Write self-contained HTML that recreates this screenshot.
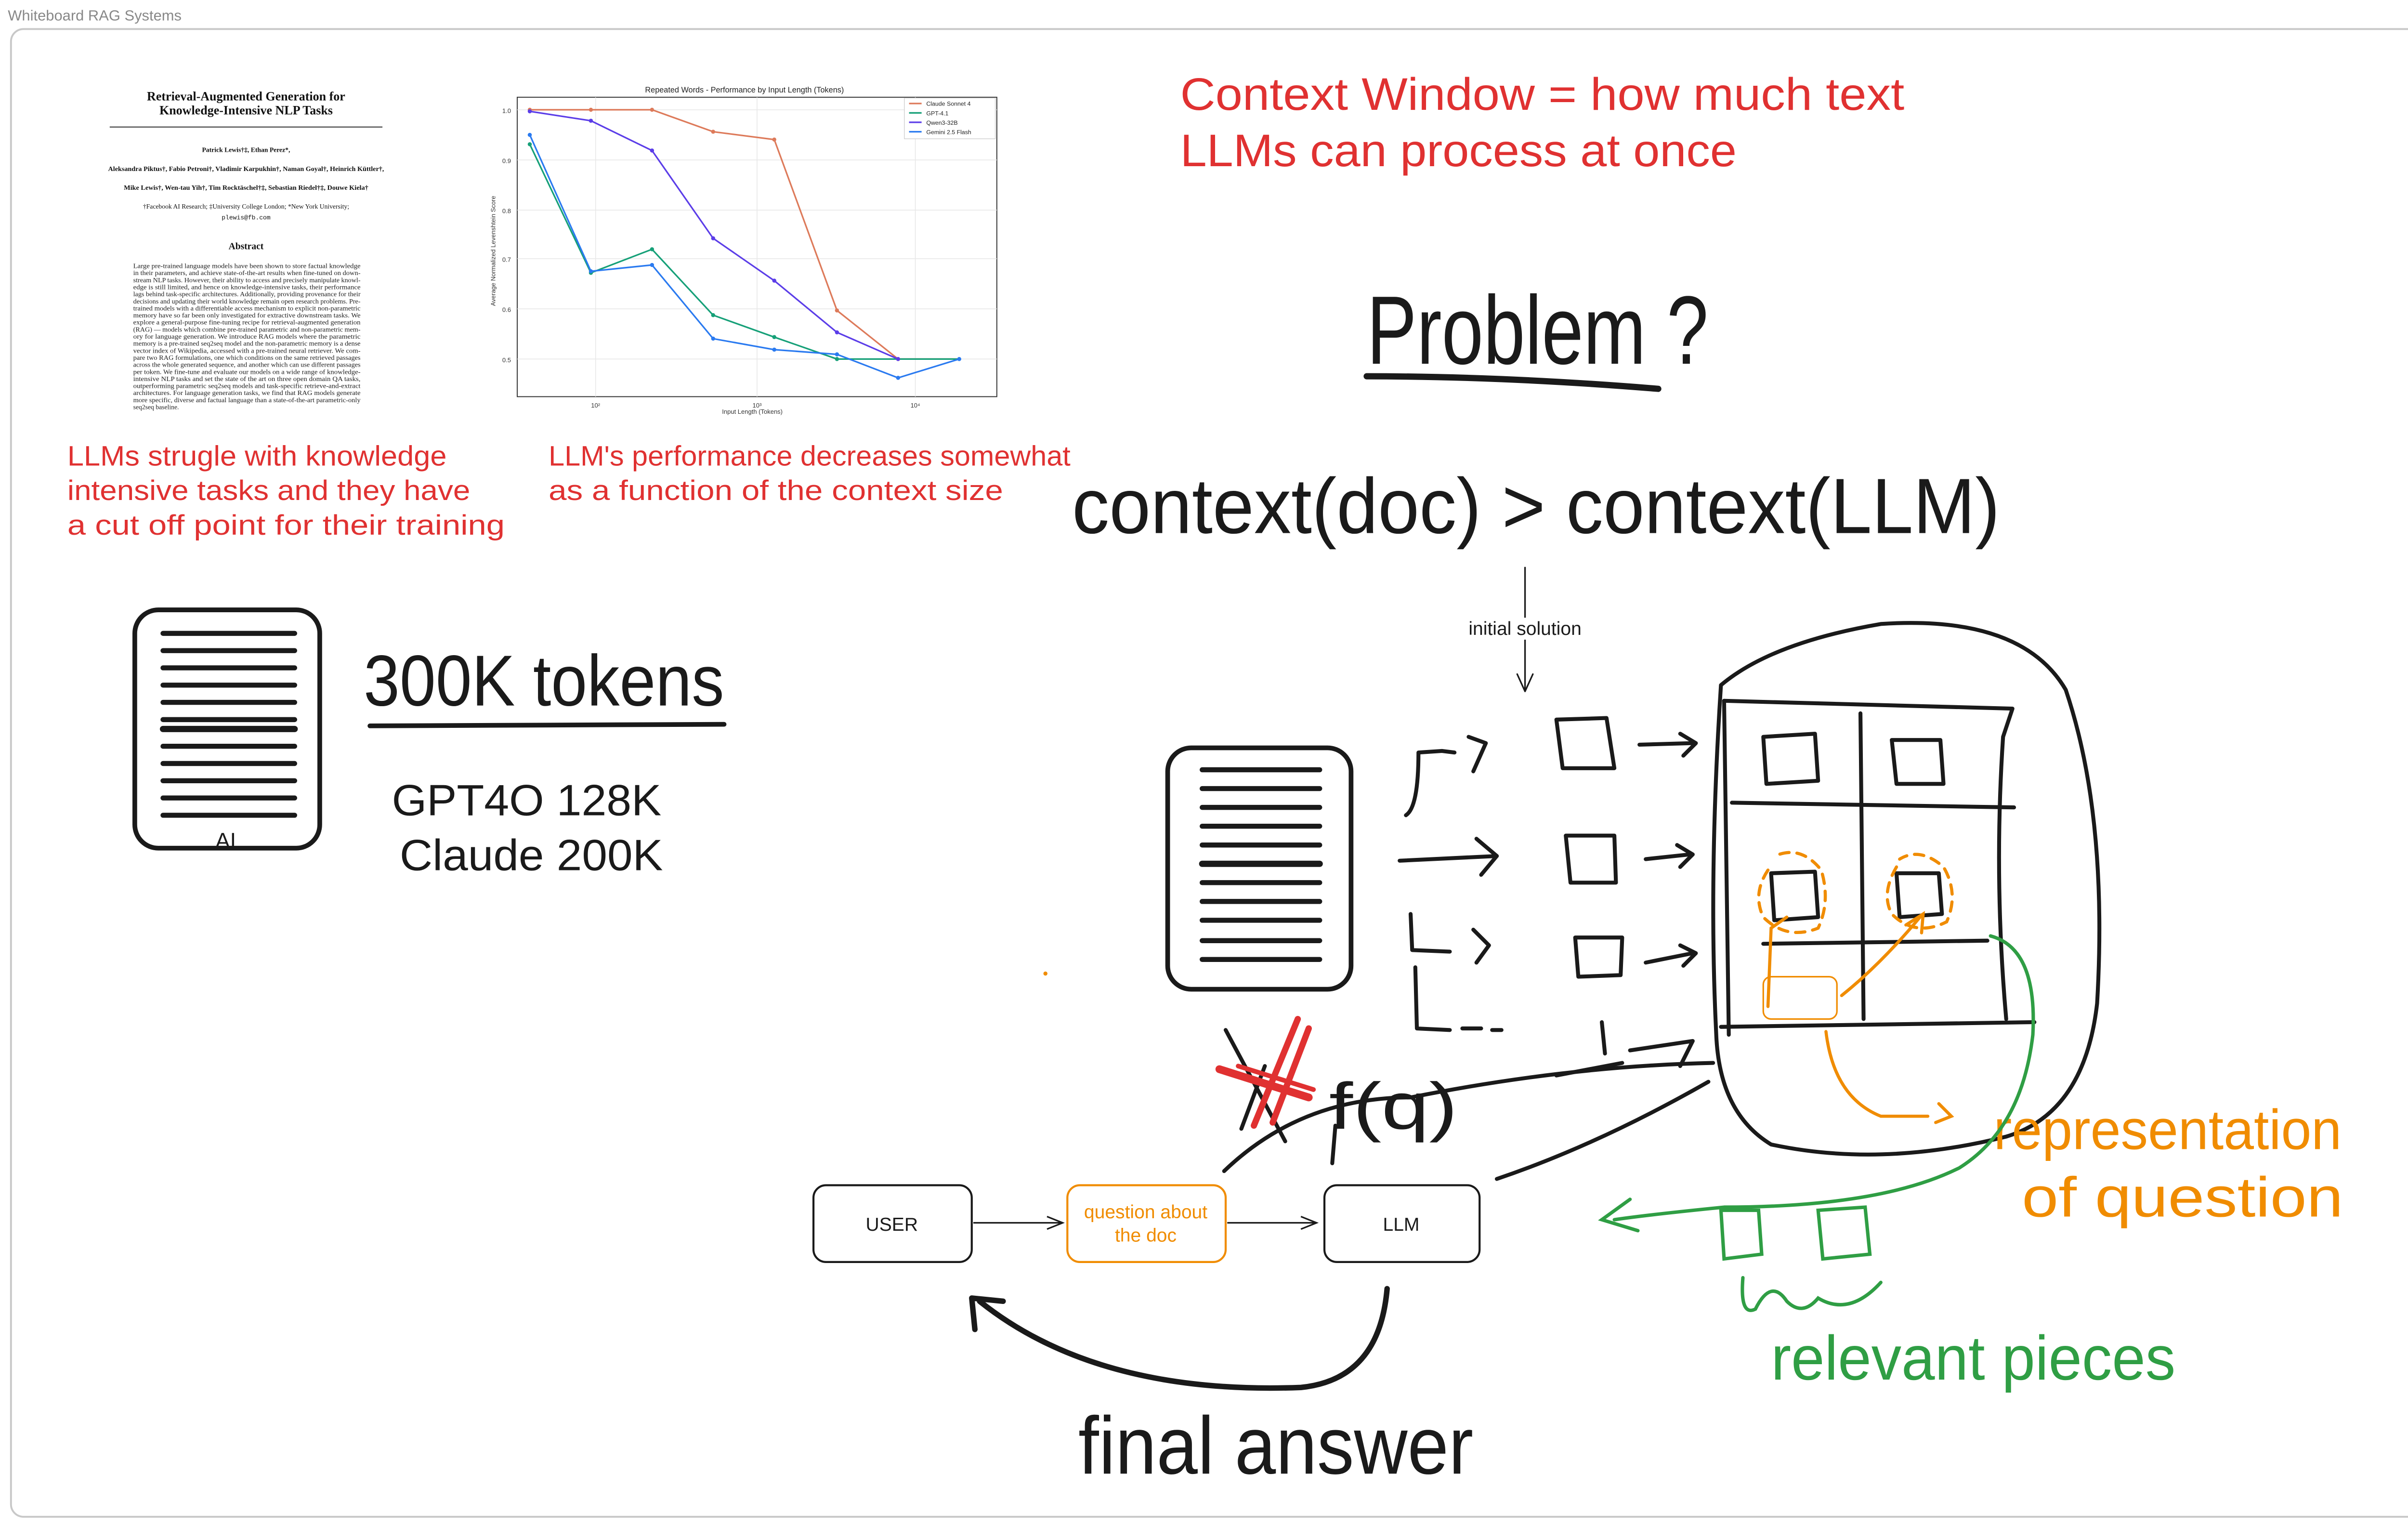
<!DOCTYPE html>
<html><head><meta charset="utf-8"><style>
html,body{margin:0;padding:0;background:#fff;}
svg{display:block;}
.hw{font-family:"Liberation Sans Narrow","Liberation Sans",sans-serif;}
</style></head><body>
<svg width="5103" height="3170" viewBox="0 0 1568 974" xmlns="http://www.w3.org/2000/svg">
<rect x="0" y="0" width="1568" height="974" fill="#fff"/>
<text x="5" y="13" font-family="Liberation Sans Narrow, Liberation Sans, sans-serif" font-size="9.5" fill="#888">Whiteboard RAG Systems</text>
<rect x="7" y="18.5" width="1554" height="949" rx="8" fill="none" stroke="#c8c8c8" stroke-width="1.2"/>

<!-- Paper -->
<g font-family="Liberation Serif, serif" fill="#111" text-anchor="middle">
<text x="157" y="64" font-size="8" font-weight="bold">Retrieval-Augmented Generation for</text>
<text x="157" y="73" font-size="8" font-weight="bold">Knowledge-Intensive NLP Tasks</text>
<line x1="70" y1="81" x2="244" y2="81" stroke="#222" stroke-width="0.6"/>
<text x="157" y="97" font-size="4.2" font-weight="bold">Patrick Lewis†‡, Ethan Perez*,</text>
<text x="157" y="109" font-size="4.2" font-weight="bold" textLength="176" lengthAdjust="spacingAndGlyphs">Aleksandra Piktus†, Fabio Petroni†, Vladimir Karpukhin†, Naman Goyal†, Heinrich Küttler†,</text>
<text x="157" y="121" font-size="4.2" font-weight="bold" textLength="156" lengthAdjust="spacingAndGlyphs">Mike Lewis†, Wen-tau Yih†, Tim Rocktäschel†‡, Sebastian Riedel†‡, Douwe Kiela†</text>
<text x="157" y="133" font-size="4.2">†Facebook AI Research; ‡University College London; *New York University;</text>
<text x="157" y="140" font-size="4" font-family="Liberation Mono, monospace">plewis@fb.com</text>
<text x="157" y="159" font-size="6" font-weight="bold">Abstract</text>
</g>
<g font-family="Liberation Serif, serif" fill="#222" font-size="4.2">
<text x="85" y="171" textLength="145" lengthAdjust="spacingAndGlyphs">Large pre-trained language models have been shown to store factual knowledge</text>
<text x="85" y="175.5" textLength="145" lengthAdjust="spacingAndGlyphs">in their parameters, and achieve state-of-the-art results when fine-tuned on down-</text>
<text x="85" y="180" textLength="145" lengthAdjust="spacingAndGlyphs">stream NLP tasks. However, their ability to access and precisely manipulate knowl-</text>
<text x="85" y="184.5" textLength="145" lengthAdjust="spacingAndGlyphs">edge is still limited, and hence on knowledge-intensive tasks, their performance</text>
<text x="85" y="189" textLength="145" lengthAdjust="spacingAndGlyphs">lags behind task-specific architectures. Additionally, providing provenance for their</text>
<text x="85" y="193.5" textLength="145" lengthAdjust="spacingAndGlyphs">decisions and updating their world knowledge remain open research problems. Pre-</text>
<text x="85" y="198" textLength="145" lengthAdjust="spacingAndGlyphs">trained models with a differentiable access mechanism to explicit non-parametric</text>
<text x="85" y="202.5" textLength="145" lengthAdjust="spacingAndGlyphs">memory have so far been only investigated for extractive downstream tasks. We</text>
<text x="85" y="207" textLength="145" lengthAdjust="spacingAndGlyphs">explore a general-purpose fine-tuning recipe for retrieval-augmented generation</text>
<text x="85" y="211.5" textLength="145" lengthAdjust="spacingAndGlyphs">(RAG) — models which combine pre-trained parametric and non-parametric mem-</text>
<text x="85" y="216" textLength="145" lengthAdjust="spacingAndGlyphs">ory for language generation. We introduce RAG models where the parametric</text>
<text x="85" y="220.5" textLength="145" lengthAdjust="spacingAndGlyphs">memory is a pre-trained seq2seq model and the non-parametric memory is a dense</text>
<text x="85" y="225" textLength="145" lengthAdjust="spacingAndGlyphs">vector index of Wikipedia, accessed with a pre-trained neural retriever. We com-</text>
<text x="85" y="229.5" textLength="145" lengthAdjust="spacingAndGlyphs">pare two RAG formulations, one which conditions on the same retrieved passages</text>
<text x="85" y="234" textLength="145" lengthAdjust="spacingAndGlyphs">across the whole generated sequence, and another which can use different passages</text>
<text x="85" y="238.5" textLength="145" lengthAdjust="spacingAndGlyphs">per token. We fine-tune and evaluate our models on a wide range of knowledge-</text>
<text x="85" y="243" textLength="145" lengthAdjust="spacingAndGlyphs">intensive NLP tasks and set the state of the art on three open domain QA tasks,</text>
<text x="85" y="247.5" textLength="145" lengthAdjust="spacingAndGlyphs">outperforming parametric seq2seq models and task-specific retrieve-and-extract</text>
<text x="85" y="252" textLength="145" lengthAdjust="spacingAndGlyphs">architectures. For language generation tasks, we find that RAG models generate</text>
<text x="85" y="256.5" textLength="145" lengthAdjust="spacingAndGlyphs">more specific, diverse and factual language than a state-of-the-art parametric-only</text>
<text x="85" y="261" >seq2seq baseline.</text>
</g>

<!-- Chart -->
<g font-family="Liberation Sans, sans-serif">
<text x="475" y="59" font-size="5" text-anchor="middle" fill="#222">Repeated Words - Performance by Input Length (Tokens)</text>
<rect x="330" y="62" width="306" height="191" fill="#fff" stroke="#333" stroke-width="0.6"/>
<g stroke="#e8e8e8" stroke-width="0.5">
<line x1="330" y1="70" x2="636" y2="70"/><line x1="330" y1="102" x2="636" y2="102"/><line x1="330" y1="134" x2="636" y2="134"/><line x1="330" y1="165" x2="636" y2="165"/><line x1="330" y1="197" x2="636" y2="197"/><line x1="330" y1="229" x2="636" y2="229"/>
<line x1="380" y1="62" x2="380" y2="253"/><line x1="483" y1="62" x2="483" y2="253"/><line x1="584" y1="62" x2="584" y2="253"/>
</g>
<g font-size="4" fill="#333" text-anchor="end">
<text x="326" y="72">1.0</text><text x="326" y="104">0.9</text><text x="326" y="136">0.8</text><text x="326" y="167">0.7</text><text x="326" y="199">0.6</text><text x="326" y="231">0.5</text>
</g>
<g font-size="4" fill="#333" text-anchor="middle">
<text x="380" y="260">10²</text><text x="483" y="260">10³</text><text x="584" y="260">10⁴</text>
<text x="480" y="264">Input Length (Tokens)</text>
<text transform="translate(316,160) rotate(-90)" font-size="4">Average Normalized Levenshtein Score</text>
</g>
<polyline fill="none" stroke="#dd7a5a" stroke-width="1" points="338,70 377,70 416,70 455,84 494,89 534,198 573,229 612,229"/>
<polyline fill="none" stroke="#16a078" stroke-width="1" points="338,92 377,174 416,159 455,201 494,215 534,229 573,229 612,229"/>
<polyline fill="none" stroke="#5b3de8" stroke-width="1" points="338,71 377,77 416,96 455,152 494,179 534,212 573,229"/>
<polyline fill="none" stroke="#2a7af0" stroke-width="1" points="338,86 377,173 416,169 455,216 494,223 534,226 573,241 612,229"/>
<g fill="#dd7a5a"><circle cx="338" cy="70" r="1.3"/><circle cx="377" cy="70" r="1.3"/><circle cx="416" cy="70" r="1.3"/><circle cx="455" cy="84" r="1.3"/><circle cx="494" cy="89" r="1.3"/><circle cx="534" cy="198" r="1.3"/><circle cx="573" cy="229" r="1.3"/></g>
<g fill="#16a078"><circle cx="338" cy="92" r="1.3"/><circle cx="377" cy="174" r="1.3"/><circle cx="416" cy="159" r="1.3"/><circle cx="455" cy="201" r="1.3"/><circle cx="494" cy="215" r="1.3"/><circle cx="534" cy="229" r="1.3"/></g>
<g fill="#5b3de8"><circle cx="338" cy="71" r="1.3"/><circle cx="377" cy="77" r="1.3"/><circle cx="416" cy="96" r="1.3"/><circle cx="455" cy="152" r="1.3"/><circle cx="494" cy="179" r="1.3"/><circle cx="534" cy="212" r="1.3"/><circle cx="573" cy="229" r="1.3"/></g>
<g fill="#2a7af0"><circle cx="338" cy="86" r="1.3"/><circle cx="377" cy="173" r="1.3"/><circle cx="416" cy="169" r="1.3"/><circle cx="455" cy="216" r="1.3"/><circle cx="494" cy="223" r="1.3"/><circle cx="534" cy="226" r="1.3"/><circle cx="573" cy="241" r="1.3"/><circle cx="612" cy="229" r="1.3"/></g>
<rect x="577" y="62.5" width="58" height="26" fill="#fff" stroke="#ccc" stroke-width="0.4"/>
<g font-size="3.8" fill="#222">
<line x1="580" y1="66" x2="588" y2="66" stroke="#dd7a5a"/><text x="591" y="67.5">Claude Sonnet 4</text>
<line x1="580" y1="72" x2="588" y2="72" stroke="#16a078"/><text x="591" y="73.5">GPT-4.1</text>
<line x1="580" y1="78" x2="588" y2="78" stroke="#5b3de8"/><text x="591" y="79.5">Qwen3-32B</text>
<line x1="580" y1="84" x2="588" y2="84" stroke="#2a7af0"/><text x="591" y="85.5">Gemini 2.5 Flash</text>
</g>
</g>

<!-- Red texts -->
<g class="hw" fill="#e03131">
<text x="753" y="70" font-size="29" textLength="462" lengthAdjust="spacingAndGlyphs">Context Window = how much text</text>
<text x="753" y="106" font-size="29" textLength="355" lengthAdjust="spacingAndGlyphs">LLMs can process at once</text>
<text x="43" y="297" font-size="18" textLength="242" lengthAdjust="spacingAndGlyphs">LLMs strugle with knowledge</text>
<text x="43" y="319" font-size="18" textLength="257" lengthAdjust="spacingAndGlyphs">intensive tasks and they have</text>
<text x="43" y="341" font-size="18" textLength="279" lengthAdjust="spacingAndGlyphs">a cut off point for their training</text>
<text x="350" y="297" font-size="18" textLength="333" lengthAdjust="spacingAndGlyphs">LLM's performance decreases somewhat</text>
<text x="350" y="319" font-size="18" textLength="290" lengthAdjust="spacingAndGlyphs">as a function of the context size</text>
</g>

<!-- Black handwriting -->
<g class="hw" fill="#1a1a1a">
<text x="872" y="232" font-size="62" textLength="218" lengthAdjust="spacingAndGlyphs">Problem ?</text>
<text x="684" y="340" font-size="50" textLength="592" lengthAdjust="spacingAndGlyphs">context(doc) &gt; context(LLM)</text>
<text x="232" y="450" font-size="46" textLength="230" lengthAdjust="spacingAndGlyphs">300K tokens</text>
<text x="250" y="520" font-size="28" textLength="172" lengthAdjust="spacingAndGlyphs">GPT4O 128K</text>
<text x="255" y="555" font-size="28" textLength="168" lengthAdjust="spacingAndGlyphs">Claude 200K</text>
<text x="848" y="720" font-size="42" textLength="82" lengthAdjust="spacingAndGlyphs">f(q)</text>
<text x="688" y="940" font-size="52" textLength="252" lengthAdjust="spacingAndGlyphs">final answer</text>
</g>
<g stroke="#1a1a1a" fill="none" stroke-linecap="round" stroke-linejoin="round">
<path d="M872 240 Q960 240 1058 248" stroke-width="4"/>
<path d="M236 463 L462 462" stroke-width="3"/>
<line x1="973" y1="362" x2="973" y2="440" stroke-width="1"/>
<path d="M968 430 L973 441 L978 430" stroke-width="1"/>
</g>
<rect x="928" y="394" width="90" height="14" fill="#fff"/>
<text x="973" y="405" font-family="Liberation Sans Narrow, Liberation Sans, sans-serif" font-size="12" text-anchor="middle" fill="#1a1a1a">initial solution</text>

<!-- Left doc icon -->
<g stroke="#1a1a1a" fill="none" stroke-linecap="round">
<rect x="86" y="389" width="118" height="152" rx="15" stroke-width="3"/>
<g stroke-width="3.2">
<line x1="104" y1="404" x2="188" y2="404"/><line x1="104" y1="415" x2="188" y2="415"/><line x1="104" y1="426" x2="188" y2="426"/><line x1="104" y1="437" x2="188" y2="437"/><line x1="104" y1="448" x2="188" y2="448"/><line x1="104" y1="459" x2="188" y2="459"/><line x1="104" y1="465" x2="188" y2="465" stroke-width="4"/><line x1="104" y1="476" x2="188" y2="476"/><line x1="104" y1="487" x2="188" y2="487"/><line x1="104" y1="498" x2="188" y2="498"/><line x1="104" y1="509" x2="188" y2="509"/><line x1="104" y1="520" x2="188" y2="520"/>
</g>
</g>
<text x="144" y="541" class="hw" font-size="14" text-anchor="middle" fill="#1a1a1a">AI</text>

<!-- Middle doc icon -->
<g stroke="#1a1a1a" fill="none" stroke-linecap="round" stroke-linejoin="round">
<rect x="745" y="477" width="117" height="154" rx="15" stroke-width="3"/>
<g stroke-width="3.2">
<line x1="767" y1="491" x2="842" y2="491"/><line x1="767" y1="503" x2="842" y2="503"/><line x1="767" y1="515" x2="842" y2="515"/><line x1="767" y1="527" x2="842" y2="527"/><line x1="767" y1="539" x2="842" y2="539"/><line x1="767" y1="551" x2="842" y2="551" stroke-width="4"/><line x1="767" y1="563" x2="842" y2="563"/><line x1="767" y1="575" x2="842" y2="575"/><line x1="767" y1="587" x2="842" y2="587"/><line x1="767" y1="600" x2="842" y2="600"/><line x1="767" y1="612" x2="842" y2="612"/>
</g>
<g stroke-width="2.5">
<path d="M897 520 Q905 515 905 480 L920 479 L928 480"/><path d="M937 470 L948 474 L940 492"/>
<path d="M893 549 L955 546"/><path d="M942 535 L955 546 L945 558"/>
<path d="M900 583 L901 606 L925 607"/><path d="M940 593 L950 603 L942 614"/>
<path d="M903 617 L904 656 L925 657"/><path d="M933 656 L945 656 M952 657 L958 657"/>
<path d="M993 459 L1025 458 L1030 490 L997 490 Z"/>
<path d="M999 533 L1030 533 L1031 563 L1002 563 Z"/>
<path d="M1005 598 L1035 598 L1034 622 L1007 623 Z"/>
<path d="M1046 475 L1080 474"/><path d="M1072 468 L1082 474 L1074 482"/>
<path d="M1050 548 L1078 545"/><path d="M1070 539 L1080 545 L1072 553"/>
<path d="M1050 614 L1080 608"/><path d="M1072 603 L1082 608 L1074 616"/>
<path d="M993 686 L1035 678"/><path d="M1040 670 L1080 664 L1072 680"/><path d="M1022 652 L1024 672"/>
<path d="M1098 437 Q1130 410 1200 398 Q1290 392 1318 440 Q1345 520 1338 640 Q1330 710 1280 725 Q1200 745 1130 730 Q1097 710 1095 660 Q1090 560 1098 437 Z"/>
<path d="M1100 447 L1284 452 L1278 470 Q1272 560 1280 650"/>
<path d="M1100 447 L1103 660"/>
<line x1="1187" y1="455" x2="1189" y2="650"/>
<path d="M1105 512 L1285 515"/><path d="M1125 602 L1268 600"/><path d="M1098 655 L1298 652"/>
<path d="M1125 470 L1158 468 L1160 498 L1127 500 Z"/><path d="M1207 472 L1238 472 L1240 500 L1210 500 Z"/>
<path d="M1130 557 L1158 556 L1160 585 L1132 587 Z"/><path d="M1210 557 L1237 557 L1239 583 L1212 585 Z"/>
<path d="M781 747 Q830 700 900 700 Q1000 680 1093 678"/>
<path d="M955 752 Q1020 730 1090 690"/>
<path d="M852 718 L850 742"/>
<path d="M885 822 Q880 880 830 885 Q700 890 625 830" stroke-width="3.5"/>
<path d="M622 848 L620 828 L640 830" stroke-width="3.5"/>
</g>
</g>

<!-- Red X -->
<g stroke-linecap="round" fill="none">
<path d="M782 657 L820 728" stroke="#1a1a1a" stroke-width="2.5"/>
<path d="M807 680 L792 720" stroke="#1a1a1a" stroke-width="2.5"/>
<path d="M828 650 L800 718" stroke="#e03131" stroke-width="4"/>
<path d="M835 656 L812 716" stroke="#e03131" stroke-width="4"/>
<path d="M778 682 L835 700" stroke="#e03131" stroke-width="5"/>
<path d="M790 680 L838 695" stroke="#e03131" stroke-width="3"/>
</g>

<!-- Boxes -->
<g font-family="Liberation Sans Narrow, Liberation Sans, sans-serif" text-anchor="middle">
<rect x="519" y="756" width="101" height="49" rx="8" fill="#fff" stroke="#1a1a1a" stroke-width="1.3"/>
<text x="569" y="785" font-size="12" fill="#1a1a1a">USER</text>
<rect x="681" y="756" width="101" height="49" rx="8" fill="#fff" stroke="#f08c00" stroke-width="1.3"/>
<text x="731" y="777" font-size="12" fill="#f08c00">question about</text>
<text x="731" y="792" font-size="12" fill="#f08c00">the doc</text>
<rect x="845" y="756" width="99" height="49" rx="8" fill="#fff" stroke="#1a1a1a" stroke-width="1.3"/>
<text x="894" y="785" font-size="12" fill="#1a1a1a">LLM</text>
</g>
<g stroke="#1a1a1a" stroke-width="1" fill="none">
<line x1="621" y1="780" x2="678" y2="780"/><path d="M668 776 L678 780 L668 784"/>
<line x1="783" y1="780" x2="840" y2="780"/><path d="M830 776 L840 780 L830 784"/>
</g>

<!-- Orange -->
<g stroke="#f08c00" fill="none" stroke-linecap="round" stroke-width="2">
<path d="M1128 555 Q1118 570 1125 585 Q1140 600 1160 592 Q1168 575 1162 555 Q1150 540 1135 545" stroke-dasharray="6 5"/>
<path d="M1210 553 Q1200 570 1207 583 Q1222 598 1242 588 Q1250 570 1240 553 Q1225 540 1212 548" stroke-dasharray="6 5"/>
<path d="M1128 642 L1130 592 L1140 585"/>
<path d="M1175 635 Q1200 615 1225 585"/><path d="M1216 590 L1227 583 L1226 595"/>
<path d="M1165 658 Q1170 700 1200 712 L1230 712"/><path d="M1237 704 L1245 712 L1235 716"/>
</g>
<rect x="1125" y="623" width="47" height="27" rx="5" fill="none" stroke="#f08c00" stroke-width="1"/>
<circle cx="667" cy="621" r="1.3" fill="#f08c00"/>
<g class="hw" fill="#f08c00">
<text x="1272" y="733" font-size="36" textLength="222" lengthAdjust="spacingAndGlyphs">representation</text>
<text x="1290" y="776" font-size="36" textLength="205" lengthAdjust="spacingAndGlyphs">of question</text>
</g>

<!-- Green -->
<g stroke="#2f9e44" fill="none" stroke-linecap="round" stroke-width="2.2">
<path d="M1270 597 Q1300 605 1297 660 Q1290 720 1250 745 Q1200 770 1100 770 Q1050 775 1030 778"/>
<path d="M1040 765 L1022 778 L1045 785"/>
<path d="M1098 772 L1122 772 L1124 800 L1100 803 Z"/><path d="M1160 772 L1190 770 L1193 800 L1163 803 Z"/>
<path d="M1112 815 Q1110 840 1120 835 Q1130 815 1140 830 Q1150 840 1160 828 Q1180 840 1200 818"/>
</g>
<text x="1130" y="880" class="hw" font-size="40" fill="#2f9e44" textLength="258" lengthAdjust="spacingAndGlyphs">relevant pieces</text>
</svg>
</body></html>
